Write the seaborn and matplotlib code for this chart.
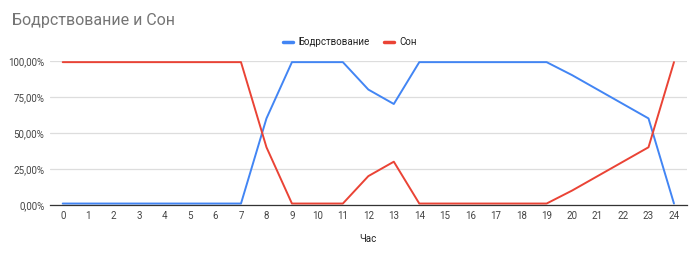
import matplotlib
matplotlib.use("Agg")
import matplotlib.pyplot as plt
import seaborn as sns
import pandas as pd
from matplotlib.ticker import FuncFormatter, FixedLocator
from matplotlib.lines import Line2D

hours = list(range(25))
awake = [1, 1, 1, 1, 1, 1, 1, 1, 60, 99, 99, 99, 80, 70, 99, 99, 99, 99, 99, 99, 90, 80, 70, 60, 1]
sleep = [99, 99, 99, 99, 99, 99, 99, 99, 40, 1, 1, 1, 20, 30, 1, 1, 1, 1, 1, 1, 10, 20, 30, 40, 99]
series_names = ["Бодрствование", "Сон"]
yticks = [0, 25, 50, 75, 100]

df = pd.DataFrame({"Час": hours * 2,
                   "value": awake + sleep,
                   "series": [series_names[0]] * 25 + [series_names[1]] * 25})

sns.set_theme(style="white")
plt.rcParams['font.family'] = ['Roboto', 'DejaVu Sans']

fig = plt.figure(figsize=(7, 2.54), dpi=100)
ax = fig.add_axes([0.0714, 0.193, 0.9096, 0.568])

palette = {series_names[0]: "#4285F4", series_names[1]: "#EA4335"}
sns.lineplot(data=df, x="Час", y="value", hue="series", palette=palette,
             linewidth=1.4, ax=ax, legend=False)

ax.set_xlim(-0.5, 24.5)
ax.set_ylim(0, 100)
ax.xaxis.set_major_locator(FixedLocator(hours))
ax.yaxis.set_major_locator(FixedLocator(yticks))
ax.yaxis.set_major_formatter(FuncFormatter(lambda v, p: f"{v:.2f}".replace(".", ",") + "%"))
ax.grid(axis="y", color="#dddddd", linewidth=0.9)
ax.set_axisbelow(True)
for s in ["top", "right", "left"]:
    ax.spines[s].set_visible(False)
ax.spines["bottom"].set_color("#333333")
ax.spines["bottom"].set_linewidth(0.9)
ax.tick_params(axis="both", length=0, labelsize=7, colors="#444444", pad=4)
ax.set_xlabel("Час", fontsize=7, color="#222222", labelpad=10)
ax.set_ylabel("")

fig.text(0.017, 0.92, "Бодрствование и Сон", fontsize=11.5, color="#757575", ha="left", va="center")

handles = [Line2D([0], [0], color=palette[n], linewidth=2.5) for n in series_names]
fig.legend(handles, series_names, loc="center", bbox_to_anchor=(0.5, 0.835), ncol=2,
           frameon=False, fontsize=7, handlelength=1.0, handletextpad=0.6, columnspacing=1.5,
           labelcolor="#222222")

fig.savefig("out.png", dpi=100)
